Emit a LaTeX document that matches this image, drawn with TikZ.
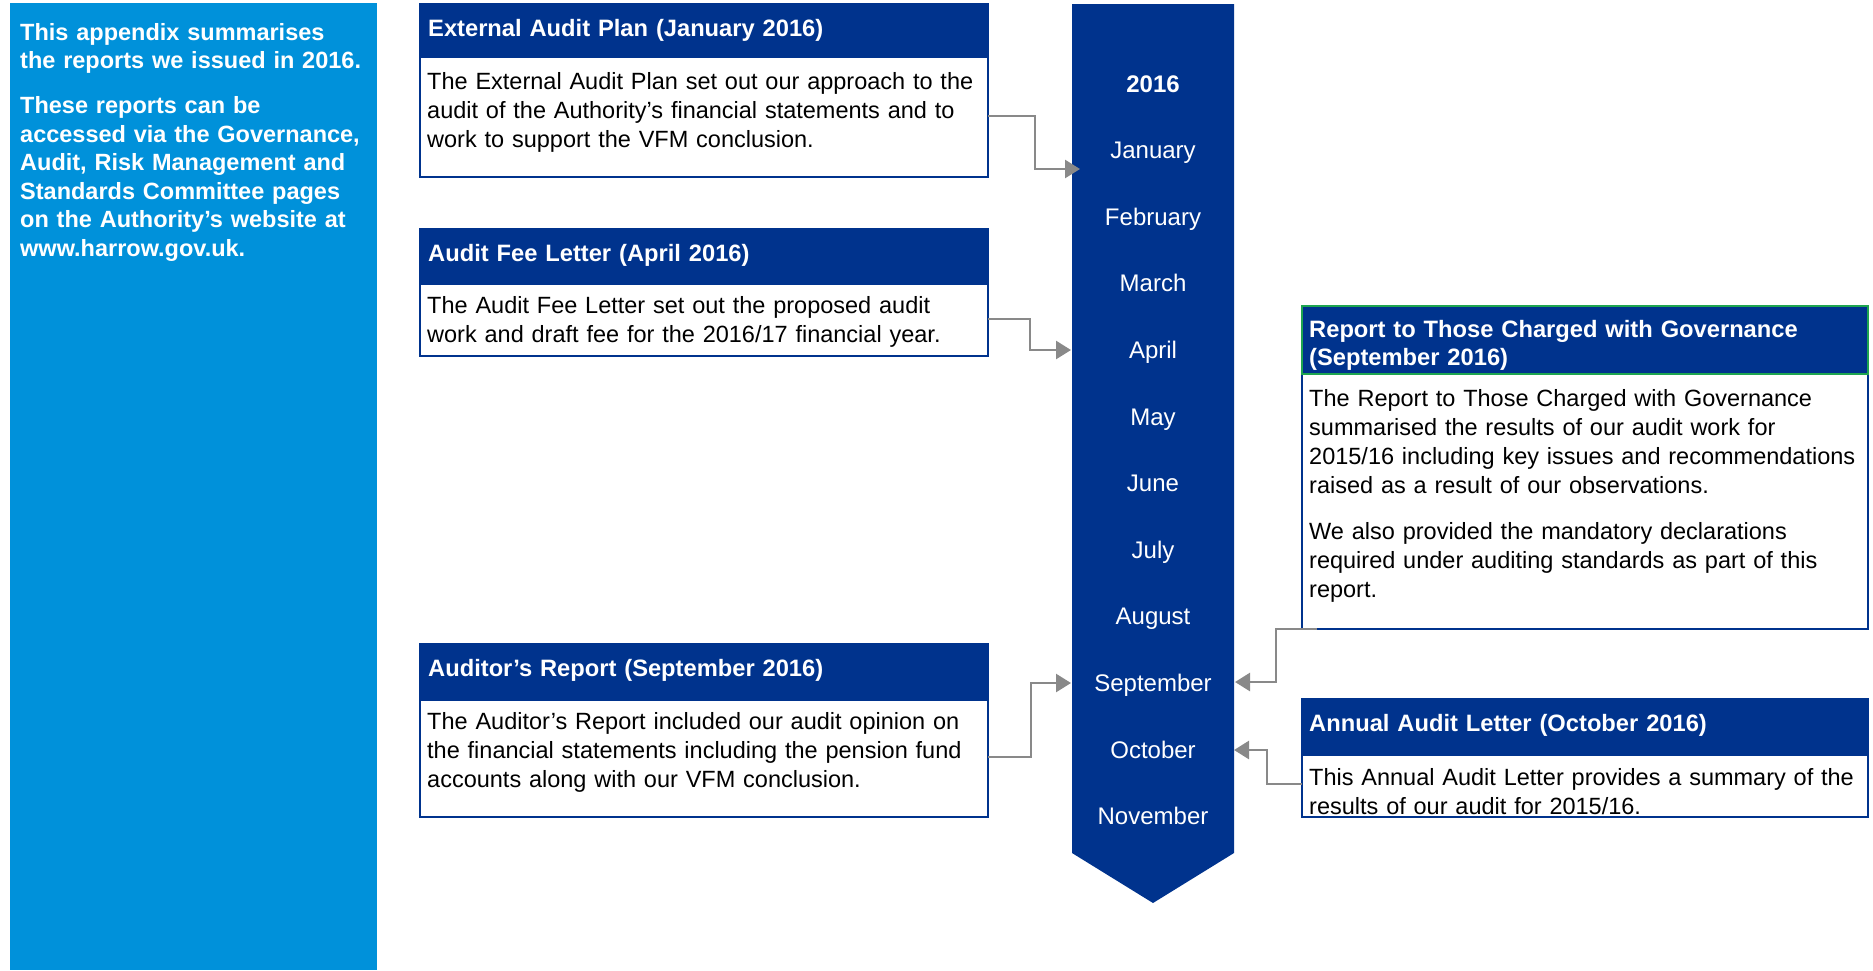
\documentclass[tikz,border=0pt]{standalone}
\usepackage{fontspec}
\setmainfont{Liberation Sans}
\usetikzlibrary{arrows.meta}
\definecolor{kdark}{RGB}{0,51,141}
\definecolor{klight}{RGB}{0,145,218}
\definecolor{kgreen}{RGB}{30,165,80}
\definecolor{kgray}{RGB}{137,137,137}
\tikzset{
  box/.style={draw=kdark, line width=1.2pt, fill=white, inner sep=0pt, outer sep=0pt, anchor=north west},
  hdr/.style={fill=kdark, draw=kdark, line width=1.2pt, inner sep=0pt, outer sep=0pt, anchor=north west},
  htext/.style={anchor=base west, inner sep=0pt, text width=600pt, align=left, text=white, font=\fontsize{23.7}{28}\selectfont\bfseries},
  btext/.style={anchor=base west, inner sep=0pt, text width=600pt, align=left, text=black, font=\fontsize{23.5}{29}\selectfont},
  ptext/.style={anchor=base west, inner sep=0pt, text width=360pt, align=left, text=white, font=\fontsize{23.5}{28.5}\selectfont\bfseries},
  month/.style={anchor=base, inner sep=0pt, text=white, font=\fontsize{24}{29}\selectfont},
  conn/.style={draw=kgray, line width=2.6pt, -{Triangle[length=15pt,width=18pt]}},
}
\begin{document}
\begin{tikzpicture}[x=1pt,y=-1pt]
\useasboundingbox (0,0) rectangle (1873,970);
% left panel
\node[fill=klight, inner sep=0pt, outer sep=0pt, anchor=north west, minimum width=367pt, minimum height=967pt] (panel) at (10,3) {};
\node[ptext] (ptxt) at (20,40) {This appendix summarises\\the reports we issued in 2016.\\[16.5pt]These reports can be\\accessed via the Governance,\\Audit, Risk Management and\\Standards Committee pages\\on the Authority’s website at\\www.harrow.gov.uk.};
% timeline
\fill[kdark] (1072,4) -- (1234,4) -- (1234,853) -- (1153,903) -- (1072,853) -- cycle;
\node[month, font=\fontsize{24}{29}\selectfont\bfseries] (m0) at (1153,92) {2016};
\foreach \m [count=\i] in {January,February,March,April,May,June,July,August,September,October,November}
  \node[month] (m\i) at (1153,{92+66.6*\i}) {\m};
% box 1
\node[box, minimum width=568pt, minimum height=173pt] (b1) at (420,4) {};
\node[hdr, minimum width=568pt, minimum height=53pt] (h1) at (420,4) {};
\node[htext] (ht1) at (428,36) {External Audit Plan (January 2016)};
\node[btext] (bt1) at (427,89) {The External Audit Plan set out our approach to the\\audit of the Authority’s financial statements and to\\work to support the VFM conclusion.};
% box 2
\node[box, minimum width=568pt, minimum height=127pt] (b2) at (420,229) {};
\node[hdr, minimum width=568pt, minimum height=55pt] (h2) at (420,229) {};
\node[htext] (ht2) at (428,261) {Audit Fee Letter (April 2016)};
\node[btext] (bt2) at (427,313) {The Audit Fee Letter set out the proposed audit\\work and draft fee for the 2016/17 financial year.};
% box 3
\node[box, minimum width=568pt, minimum height=173pt] (b3) at (420,644) {};
\node[hdr, minimum width=568pt, minimum height=56pt] (h3) at (420,644) {};
\node[htext] (ht3) at (428,676) {Auditor’s Report (September 2016)};
\node[btext] (bt3) at (427,729) {The Auditor’s Report included our audit opinion on\\the financial statements including the pension fund\\accounts along with our VFM conclusion.};
% box 4
\node[box, minimum width=566pt, minimum height=323pt] (b4) at (1302,306) {};
\node[hdr, draw=kgreen, minimum width=566pt, minimum height=68pt] (h4) at (1302,306) {};
\node[htext] (ht4) at (1309,337) {Report to Those Charged with Governance\\(September 2016)};
\node[btext] (bt4) at (1309,406) {The Report to Those Charged with Governance\\summarised the results of our audit work for\\2015/16 including key issues and recommendations\\raised as a result of our observations.\\[17pt]We also provided the mandatory declarations\\required under auditing standards as part of this\\report.};
% box 5
\node[box, minimum width=566pt, minimum height=118pt] (b5) at (1302,699) {};
\node[hdr, minimum width=566pt, minimum height=56pt] (h5) at (1302,699) {};
\node[htext] (ht5) at (1309,731) {Annual Audit Letter (October 2016)};
\node[btext] (bt5) at (1309,785) {This Annual Audit Letter provides a summary of the\\results of our audit for 2015/16.};
% connectors
\draw[conn] (b1.east |- 0,116) -- (1035,116) |- (1080,169);
\draw[conn] (b2.east |- 0,319) -- (1030,319) |- (1071,350);
\draw[conn] (b3.east |- 0,757) -- (1031,757) |- (1071,683);
\draw[conn] ([xshift=15pt]b4.south west) -- (1276,629) |- (1235,682);
\draw[conn] (b5.west |- 0,784) -- (1267,784) |- (1234,750);
\end{tikzpicture}
\end{document}
